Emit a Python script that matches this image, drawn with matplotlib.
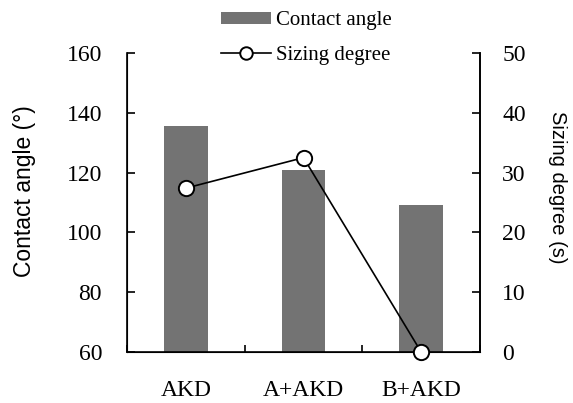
import matplotlib
matplotlib.use("Agg")
import matplotlib.pyplot as plt
from matplotlib.lines import Line2D
from matplotlib.patches import Patch

categories = ["AKD", "A+AKD", "B+AKD"]
contact_angle = [135.6, 120.9, 109.3]
sizing_degree = [27.4, 32.5, 0.0]
left_ticks = [60, 80, 100, 120, 140, 160]
right_ticks = [0, 10, 20, 30, 40, 50]

serif = "Liberation Serif"
sans = "Liberation Sans"

W, H = 573, 403
fig = plt.figure(figsize=(W / 100, H / 100), dpi=100)
ax = fig.add_axes([127 / W, (H - 352) / H, 353 / W, 299 / H])
x = list(range(len(categories)))
ax.bar(x, [v - 60 for v in contact_angle], bottom=60, width=0.37, color="#737373", zorder=1)
ax.set_xlim(-0.5, 2.5)
ax.set_ylim(60, 160)
ax.set_yticks(left_ticks)
ax.set_yticklabels([str(t) for t in left_ticks], fontfamily=serif, fontsize=17)
ax.set_xticks(x)
ax.set_xticklabels(categories, fontfamily=serif, fontsize=17)
ax.tick_params(axis="x", length=0, pad=20)
ax.set_xticks([-0.5, 0.5, 1.5, 2.5], minor=True)
ax.tick_params(axis="x", which="minor", direction="in", length=5, width=1.2)
ax.tick_params(axis="y", direction="in", length=6, width=1.2, pad=18)
for s in ["left", "bottom", "right"]:
    ax.spines[s].set_linewidth(1.2)
ax.spines["top"].set_visible(False)

ax2 = ax.twinx()
ax2.plot(x, sizing_degree, color="black", lw=1.2, marker="o", markersize=11,
         markerfacecolor="white", markeredgecolor="black", markeredgewidth=1.4,
         clip_on=False, zorder=5)
ax2.set_ylim(0, 50)
ax2.set_yticks(right_ticks)
ax2.set_yticklabels([str(t) for t in right_ticks], fontfamily=serif, fontsize=17)
ax2.tick_params(axis="y", direction="in", length=6, width=1.2, pad=16)
ax2.spines["top"].set_visible(False)
ax2.spines["right"].set_linewidth(1.2)

fig.text(25 / W, (H - 191) / H, "Contact angle (°)", fontfamily=sans, fontsize=16.5,
         rotation=90, ha="center", va="center")
fig.text(557 / W, (H - 187.5) / H, "Sizing degree (s)", fontfamily=sans, fontsize=14.5,
         rotation=270, ha="center", va="center")

handles = [Patch(facecolor="#737373", edgecolor="none"),
           Line2D([0], [0], color="black", lw=1.2, marker="o", markersize=9,
                  markerfacecolor="white", markeredgecolor="black", markeredgewidth=1.4)]
fig.legend(handles, ["Contact angle", "Sizing degree"], loc="center",
           bbox_to_anchor=(0.535, (H - 38) / H), frameon=False,
           prop={"family": serif, "size": 15}, handlelength=2.4, handleheight=0.55,
           handletextpad=0.25, labelspacing=0.75)

fig.savefig("out.png", dpi=100)
